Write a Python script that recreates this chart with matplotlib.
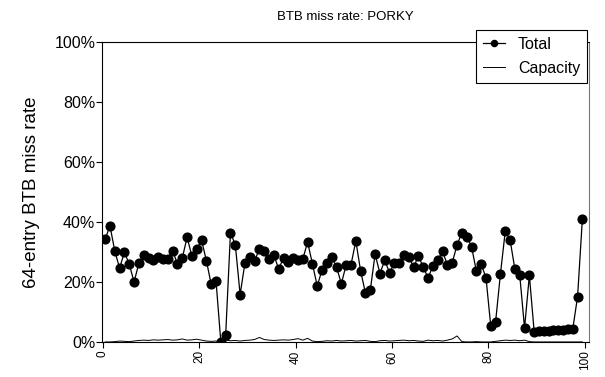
import numpy as np
import matplotlib
matplotlib.use("Agg")
import matplotlib.pyplot as plt
from matplotlib.ticker import FuncFormatter

plt.rcParams['font.family'] = ['Liberation Sans', 'DejaVu Sans']

# miss rate (%) per sample, 100 samples
total = [34.2, 38.7, 30.3, 24.6, 29.9, 25.9, 20.0, 26.2, 28.9, 28.1,
         27.4, 28.4, 27.8, 27.8, 30.3, 26.1, 27.9, 34.9, 28.6, 30.9,
         33.9, 27.1, 19.2, 20.3, 0.0, 2.2, 36.4, 32.4, 15.8, 26.3,
         28.4, 26.9, 31.1, 30.2, 27.6, 29.1, 24.2, 28.1, 26.8, 28.1,
         27.3, 27.6, 33.3, 26.0, 18.6, 24.1, 26.3, 28.4, 24.9, 19.4,
         25.7, 25.7, 33.7, 23.6, 16.3, 17.2, 29.3, 22.8, 27.2, 23.1,
         26.2, 26.2, 29.1, 28.2, 25.0, 28.6, 24.9, 21.3, 25.4, 27.3,
         30.2, 25.6, 26.4, 32.3, 36.4, 35.1, 31.8, 23.6, 26.0, 21.4,
         5.2, 6.8, 22.7, 36.9, 34.0, 24.2, 22.3, 4.6, 22.2, 3.3,
         3.6, 3.7, 3.8, 3.9, 4.0, 4.1, 4.2, 4.3, 15.1, 41.1]

capacity = [0.0, 0.0, 0.1, 0.3, 0.2, 0.1, 0.3, 0.5, 0.6, 0.5,
            0.7, 0.6, 0.7, 0.8, 0.6, 0.7, 1.0, 0.6, 0.7, 0.9,
            0.6, 0.3, 0.2, 0.3, 0.1, 0.6, 0.4, 0.5, 0.3, 0.5,
            0.6, 0.8, 1.5, 0.8, 0.6, 0.5, 0.6, 0.7, 0.6, 0.8,
            1.1, 0.6, 1.2, 0.3, 0.1, 0.2, 0.4, 0.3, 0.5, 0.3,
            0.4, 0.5, 0.3, 0.4, 0.5, 0.2, 0.1, 0.4, 0.5, 0.3,
            0.4, 0.5, 0.6, 0.4, 0.5, 0.3, 0.2, 0.6, 0.4, 0.5,
            0.3, 0.6, 1.0, 2.0, 0.1, 0.0, 0.0, 0.1, 0.0, 0.0,
            0.0, 0.2, 0.4, 0.6, 0.5, 0.6, 0.4, 0.6, 0.1, 0.0,
            0.0, 0.0, 0.0, 0.0, 0.0, 0.0, 0.0, 0.0, 0.0, 0.0]

x_ticks = [0, 20, 40, 60, 80, 100]
y_ticks = [0, 20, 40, 60, 80, 100]

x = np.arange(len(total)) + 0.5

fig = plt.figure(figsize=(6.05, 3.77), dpi=100)
ax = fig.add_axes([0.169, 0.093, 0.804, 0.796])

ax.plot(x, total, '-o', color='black', lw=0.9, markersize=6.3, label='Total')
ax.plot(x, capacity, '-', color='black', lw=0.7, label='Capacity')

ax.set_xlim(-0.1, 100.8)
ax.set_ylim(0, 100)
ax.set_xticks(x_ticks)
ax.set_yticks(y_ticks)
ax.yaxis.set_major_formatter(FuncFormatter(lambda v, p: f'{v:.0f}%'))
ax.tick_params(axis='y', direction='out', length=4, width=0.8, labelsize=11.5, pad=1)
ax.tick_params(axis='x', direction='out', length=4, width=0.8, labelsize=8.5,
               labelrotation=90, pad=2)
for s in ax.spines.values():
    s.set_linewidth(0.8)
ax.spines['right'].set_color('#777777')

ax.set_ylabel('64-entry BTB miss rate', fontsize=13.5, labelpad=10)
ax.set_title('BTB miss rate: PORKY', fontsize=9.5, pad=16)

leg = ax.legend(loc='upper right', bbox_to_anchor=(0.9975, 1.04), fontsize=11.5,
                frameon=True, fancybox=False, edgecolor='black', framealpha=1,
                borderpad=0.45, handlelength=1.4, handletextpad=0.8,
                labelspacing=0.55, markerscale=0.7, borderaxespad=0)
leg.get_frame().set_linewidth(0.8)

fig.savefig('out.png', dpi=100)
